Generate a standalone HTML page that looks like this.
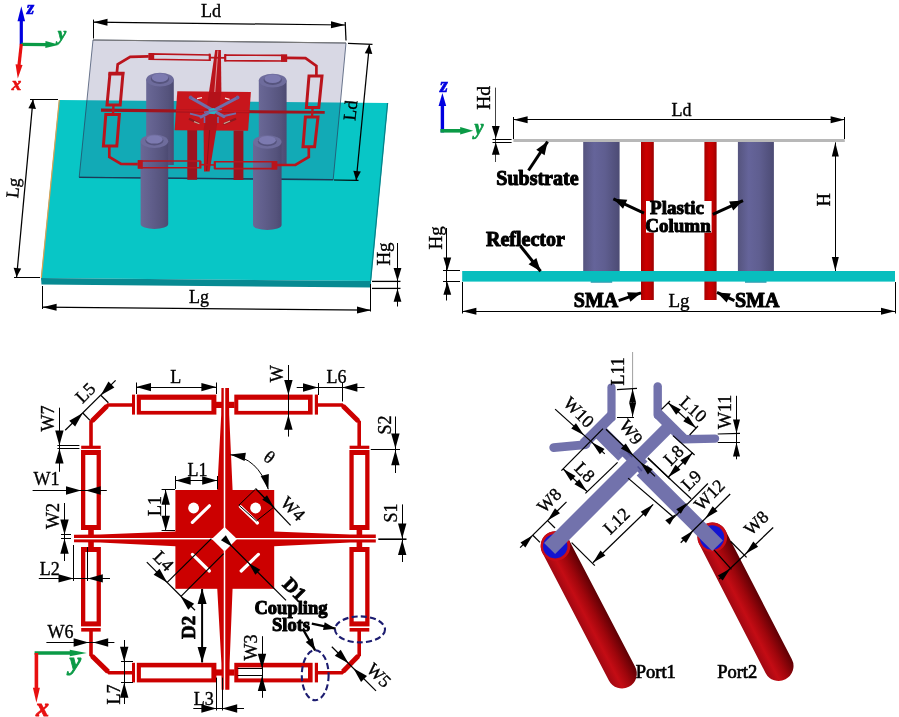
<!DOCTYPE html>
<html lang="en"><head><meta charset="utf-8"><title>Antenna geometry</title>
<style>
html,body{margin:0;padding:0;background:#fff;}
body{width:899px;height:717px;overflow:hidden;}
svg{display:block;font-family:"Liberation Serif", serif;will-change:transform;}
</style></head><body>
<svg width="899" height="717" viewBox="0 0 899 717">
<rect width="899" height="717" fill="#fff"/>
<g id="p1"><defs>
<linearGradient id="cg" x1="0" x2="1" y1="0" y2="0"><stop offset="0" stop-color="#6a6896"/><stop offset="0.35" stop-color="#615f8c"/><stop offset="0.8" stop-color="#55537c"/><stop offset="1" stop-color="#4c4a72"/></linearGradient>
</defs><polygon points="59,100 388,103 371,281 41,278" fill="#08c6c6" /><polygon points="41,278 371,281 371,287.6 41.5,284.6" fill="#078a92" /><line x1="59.3" y1="100" x2="41.3" y2="278" stroke="#e0a050" stroke-width="1.2" /><line x1="387.6" y1="103" x2="370.6" y2="281" stroke="#068088" stroke-width="1.25" /><polygon points="93,40 346,43 333.2,179.6 79.2,177.2" fill="rgb(60,60,120)" fill-opacity="0.2"/><polygon points="93,40 346,43 333.2,179.6 79.2,177.2" fill="none" stroke="#2a3a5a" stroke-width="0.8" stroke-opacity="0.85"/><line x1="93" y1="40" x2="346" y2="43" stroke="#777" stroke-width="1.25" /><line x1="79.2" y1="177.4" x2="333.2" y2="179.8" stroke="#1c3a58" stroke-width="1.4" /><rect x="187.3" y="130" width="9.8" height="49.8" fill="#9a1420" /><rect x="233.6" y="130.5" width="9.8" height="49.5" fill="#9a1420" /><path d="M146.2 79.6 L146.2 165 L173.8 165 L173.8 79.6 Z" fill="url(#cg)"/><ellipse cx="160" cy="79.6" rx="13.8" ry="6.8" fill="#6e6c9c"/><ellipse cx="160" cy="79" rx="9.11" ry="4.9" fill="#56547e"/><ellipse cx="160" cy="77.8" rx="8.28" ry="4.22" fill="#7c7ab0"/><path d="M258.8 80.6 L258.8 165 L286.6 165 L286.6 80.6 Z" fill="url(#cg)"/><ellipse cx="272.7" cy="80.6" rx="13.9" ry="6.8" fill="#6e6c9c"/><ellipse cx="272.7" cy="80" rx="9.17" ry="4.9" fill="#56547e"/><ellipse cx="272.7" cy="78.8" rx="8.34" ry="4.22" fill="#7c7ab0"/><path d="M140.6 141.2 L140.6 224 A13.8 5.1 0 0 0 168.2 224 L168.2 141.2 Z" fill="url(#cg)"/><ellipse cx="154.4" cy="141.2" rx="13.8" ry="6.8" fill="#6e6c9c"/><ellipse cx="154.4" cy="140.6" rx="9.11" ry="4.9" fill="#56547e"/><ellipse cx="154.4" cy="139.4" rx="8.28" ry="4.22" fill="#7c7ab0"/><path d="M253 142 L253 225 A14.3 5.1 0 0 0 281.6 225 L281.6 142 Z" fill="url(#cg)"/><ellipse cx="267.3" cy="142" rx="14.3" ry="6.8" fill="#6e6c9c"/><ellipse cx="267.3" cy="141.4" rx="9.44" ry="4.9" fill="#56547e"/><ellipse cx="267.3" cy="140.2" rx="8.58" ry="4.22" fill="#7c7ab0"/><polygon points="177.3,91.3 250.9,91.9 248.1,130.8 174.6,130.2" fill="#c8161c" /><polygon points="215.2,50 220.9,50 221.4,92 209,92" fill="#ba141c" /><line x1="217.9" y1="50.5" x2="213.8" y2="105" stroke="#f0d0d0" stroke-width="0.7" /><polygon points="203.6,130 216.3,130 209.6,171.6 204,171.6" fill="#ba141c" /><line x1="210.4" y1="120" x2="206.6" y2="171" stroke="#7a1018" stroke-width="0.7" /><polygon points="209,92 221.4,92 216.3,130 203.6,130" fill="#b4121a" /><polygon points="101,108.6 324.7,111 324.7,113.8 101,111.8" fill="#a0141e" /><polygon points="176,109.4 249.5,110.2 249.5,112.4 176,111.6" fill="#c8161c" /><line x1="190.6" y1="97.6" x2="224" y2="116.6" stroke="#706ea8" stroke-width="3" stroke-linecap="round"/><line x1="224" y1="116" x2="236" y2="113.4" stroke="#706ea8" stroke-width="1.8" /><line x1="237.6" y1="97.6" x2="201" y2="117" stroke="#706ea8" stroke-width="3" stroke-linecap="round"/><line x1="201" y1="116.4" x2="190" y2="113.6" stroke="#706ea8" stroke-width="1.8" /><circle cx="190.6" cy="97.4" r="1.9" fill="#6664a0"/><circle cx="237.6" cy="97.4" r="1.9" fill="#6664a0"/><line x1="197" y1="98.6" x2="202" y2="97.6" stroke="#f4e4e4" stroke-width="1.3" /><line x1="225" y1="98.2" x2="229.5" y2="99.4" stroke="#f4e4e4" stroke-width="1.3" /><polygon points="208.5,109.6 213.5,108 217.2,110.6 214.6,114.2 209.6,113.8" fill="#28b4c4" /><line x1="204" y1="112.2" x2="222" y2="109.4" stroke="#706ea8" stroke-width="1.4" /><line x1="204.5" y1="117" x2="204.5" y2="123" stroke="#706ea8" stroke-width="1.6" /><line x1="218" y1="117" x2="218" y2="123" stroke="#706ea8" stroke-width="1.6" /><line x1="189" y1="118.8" x2="199" y2="123.6" stroke="#8a1a20" stroke-width="2.2" /><line x1="236" y1="118.8" x2="223.5" y2="124" stroke="#8a1a20" stroke-width="2.2" /><line x1="194" y1="121.6" x2="199.4" y2="123.8" stroke="#c8a090" stroke-width="1.2" /><line x1="230" y1="121" x2="223.8" y2="123.6" stroke="#c8a090" stroke-width="1.2" /><polygon points="110,73.2 123,73.2 120.2,105 107,105" fill="none" stroke="#ba141c" stroke-width="3" stroke-linejoin="miter"/><polygon points="108.6,72.2 124.4,72.2 124,75.6 108.3,75.6" fill="#ba141c" /><polygon points="105.8,114.4 119.4,114.4 116.8,146 103.4,146" fill="none" stroke="#ba141c" stroke-width="3" stroke-linejoin="miter"/><polygon points="309,76 322,76 318.8,107.4 306.4,107.4" fill="none" stroke="#ba141c" stroke-width="3" stroke-linejoin="miter"/><polygon points="305.4,117 318,117 314.6,146.8 303,146.8" fill="none" stroke="#ba141c" stroke-width="3" stroke-linejoin="miter"/><polygon points="149.4,53.9 210,55 210,60.3 149.4,59.3" fill="none" stroke="#ba141c" stroke-width="1.6" stroke-linejoin="miter"/><rect x="148.6" y="53.2" width="5.6" height="6.8" fill="#ba141c" /><polygon points="225,55 286.4,55.4 286.4,61 225,60.8" fill="none" stroke="#ba141c" stroke-width="1.6" stroke-linejoin="miter"/><rect x="281" y="54.6" width="6" height="7.2" fill="#ba141c" /><polygon points="138.6,161 200,161 200,167.8 138.6,167.8" fill="none" stroke="#ba141c" stroke-width="1.6" stroke-linejoin="miter"/><rect x="137.8" y="160.2" width="5" height="8.4" fill="#ba141c" /><polygon points="215,161.8 276.4,161.8 276.4,168.6 215,168.6" fill="none" stroke="#ba141c" stroke-width="1.6" stroke-linejoin="miter"/><rect x="271.6" y="161" width="5.6" height="8.4" fill="#ba141c" /><line x1="210" y1="57.6" x2="225" y2="57.9" stroke="#ba141c" stroke-width="1.6" /><line x1="209.6" y1="53.6" x2="209.6" y2="61" stroke="#ba141c" stroke-width="1.8" /><line x1="225.4" y1="54" x2="225.4" y2="61.4" stroke="#ba141c" stroke-width="1.8" /><line x1="200" y1="164.6" x2="215" y2="165" stroke="#ba141c" stroke-width="1.6" /><line x1="200.6" y1="161" x2="200.6" y2="168.4" stroke="#ba141c" stroke-width="1.8" /><line x1="214.6" y1="161.2" x2="214.6" y2="169" stroke="#ba141c" stroke-width="1.8" /><line x1="113.5" y1="105" x2="113" y2="114.4" stroke="#ba141c" stroke-width="2.4" /><line x1="312.6" y1="107.4" x2="312" y2="117" stroke="#ba141c" stroke-width="2.4" /><polyline points="116.9,72.7 117.7,64.3 130.2,56.8 148.7,56.4" fill="none" stroke="#ba141c" stroke-width="2.7" /><polyline points="287,57.8 305.5,58.2 316.4,66 316.4,75.4" fill="none" stroke="#ba141c" stroke-width="2.7" /><polyline points="109.3,146.8 109.3,156.9 121,163.9 137.8,164.1" fill="none" stroke="#ba141c" stroke-width="2.7" /><polyline points="277,165 295.4,165 308.8,157 308.8,147.4" fill="none" stroke="#ba141c" stroke-width="2.7" /><line x1="93.5" y1="22.2" x2="345" y2="25" stroke="#000" stroke-width="1.25" /><polygon points="345,25 330.96,28.34 331.04,21.34" fill="#000" /><polygon points="93.5,22.2 107.54,18.86 107.46,25.86" fill="#000" /><line x1="93.5" y1="19.6" x2="93.5" y2="38.5" stroke="#000" stroke-width="1" /><line x1="345.2" y1="22" x2="346" y2="40.5" stroke="#000" stroke-width="1.25" /><text x="211" y="16.8" font-size="18" text-anchor="middle" font-weight="normal" font-style="normal" fill="#000" stroke="#000" stroke-width="0.35">Ld</text><line x1="369.4" y1="44.6" x2="356.2" y2="180.2" stroke="#000" stroke-width="1.25" /><polygon points="356.2,180.2 353.29,170.87 360.85,171.61" fill="#000" /><polygon points="369.4,44.6 372.31,53.93 364.75,53.19" fill="#000" /><line x1="348" y1="43.3" x2="372.5" y2="44.3" stroke="#000" stroke-width="1.25" /><line x1="334" y1="180" x2="358.5" y2="180.4" stroke="#000" stroke-width="1.25" /><text x="356.4" y="111" font-size="18" text-anchor="middle" font-weight="normal" font-style="normal" fill="#000" transform="rotate(-84 356.4 111)" stroke="#000" stroke-width="0.35">Ld</text><line x1="33" y1="99.6" x2="16.6" y2="277" stroke="#000" stroke-width="1.25" /><polygon points="16.6,277 13.64,267.69 21.21,268.39" fill="#000" /><polygon points="33,99.6 35.96,108.91 28.39,108.21" fill="#000" /><line x1="30" y1="99.5" x2="58" y2="99.5" stroke="#000" stroke-width="1" /><line x1="14" y1="277.5" x2="40" y2="277.5" stroke="#000" stroke-width="1" /><text x="19" y="188.5" font-size="18" text-anchor="middle" font-weight="normal" font-style="normal" fill="#000" transform="rotate(-84 19 188.5)" stroke="#000" stroke-width="0.35">Lg</text><line x1="42.6" y1="307.2" x2="371" y2="310.2" stroke="#000" stroke-width="1.25" /><polygon points="371,310.2 356.97,313.57 357.03,306.57" fill="#000" /><polygon points="42.6,307.2 56.63,303.83 56.57,310.83" fill="#000" /><line x1="42.5" y1="286" x2="42.5" y2="309" stroke="#000" stroke-width="1" /><line x1="370.5" y1="284" x2="370.5" y2="311.5" stroke="#000" stroke-width="1" /><text x="199" y="303.4" font-size="18" text-anchor="middle" font-weight="normal" font-style="normal" fill="#000" stroke="#000" stroke-width="0.35">Lg</text><line x1="372" y1="281.4" x2="400.5" y2="281.4" stroke="#000" stroke-width="1.3" /><line x1="372" y1="288.4" x2="400.5" y2="288.4" stroke="#000" stroke-width="1.3" /><line x1="397.5" y1="243" x2="397.5" y2="306.5" stroke="#000" stroke-width="1" /><polygon points="397.5,281 393.6,268 401.4,268" fill="#000" /><polygon points="397.5,288.8 401.4,301.8 393.6,301.8" fill="#000" /><text x="390.4" y="254" font-size="19" text-anchor="middle" font-weight="normal" font-style="normal" fill="#000" transform="rotate(-90 390.4 254)" stroke="#000" stroke-width="0.35">Hg</text><line x1="21.3" y1="44.5" x2="21.3" y2="18" stroke="#0000e0" stroke-width="3.2" /><polygon points="21.3,6.3 25.1,21.3 17.5,21.3" fill="#0000e0" /><line x1="21.3" y1="44.4" x2="47" y2="44.6" stroke="#0a9a46" stroke-width="3.2" /><polygon points="59.4,44.8 45.33,48.02 45.47,41.02" fill="#0a9a46" /><line x1="21.3" y1="44" x2="18.9" y2="66" stroke="#e81010" stroke-width="3.2" /><polygon points="17.8,78.6 15.57,64.34 22.54,64.97" fill="#e81010" /><text x="30.4" y="14.2" font-size="19" text-anchor="middle" font-weight="bold" font-style="italic" fill="#0000e0" stroke="#0000e0" stroke-width="0.7">z</text><text x="62" y="40" font-size="19" text-anchor="middle" font-weight="bold" font-style="italic" fill="#0a9a46" stroke="#0a9a46" stroke-width="0.7">y</text><text x="16.4" y="90.4" font-size="19" text-anchor="middle" font-weight="bold" font-style="italic" fill="#e81010" stroke="#e81010" stroke-width="0.7">x</text></g>
<g id="p2"><defs>
<linearGradient id="cg2" x1="0" x2="1" y1="0" y2="0"><stop offset="0" stop-color="#55547e"/><stop offset="0.3" stop-color="#65649a"/><stop offset="0.6" stop-color="#5f5e90"/><stop offset="1" stop-color="#4c4b74"/></linearGradient>
<linearGradient id="rg0" x1="0" x2="1" y1="0" y2="0"><stop offset="0" stop-color="#a80000"/><stop offset="0.4" stop-color="#cc0000"/><stop offset="0.7" stop-color="#c00000"/><stop offset="1" stop-color="#9c0000"/></linearGradient>
</defs><rect x="583.2" y="142" width="36.4" height="129.5" fill="url(#cg2)" /><rect x="737.9" y="142" width="36" height="129.5" fill="url(#cg2)" /><rect x="590.7" y="281" width="21.5" height="1.8" fill="#3aa0b4" /><rect x="745" y="281" width="21.5" height="1.8" fill="#3aa0b4" /><rect x="641" y="142" width="12.8" height="158" fill="url(#rg0)" /><rect x="704.4" y="142" width="12.2" height="158" fill="url(#rg0)" /><rect x="513.4" y="139" width="331.4" height="3" fill="#b8b8b8" /><rect x="462.2" y="271" width="432.8" height="10.6" fill="#08bebe" /><rect x="646" y="201" width="65.6" height="31.6" fill="#fff" /><line x1="513.6" y1="119.5" x2="844.6" y2="119.5" stroke="#000" stroke-width="1" /><polygon points="844.6,119.7 830.6,123.2 830.6,116.2" fill="#000" /><polygon points="513.6,119.7 527.6,116.2 527.6,123.2" fill="#000" /><line x1="513.5" y1="117" x2="513.5" y2="139" stroke="#000" stroke-width="1" /><line x1="844.5" y1="117" x2="844.5" y2="139" stroke="#000" stroke-width="1" /><text x="681.4" y="116" font-size="18" text-anchor="middle" font-weight="normal" font-style="normal" fill="#000" stroke="#000" stroke-width="0.35">Ld</text><line x1="835.5" y1="142.4" x2="835.5" y2="271" stroke="#000" stroke-width="1" /><polygon points="835.3,271 831.8,257 838.8,257" fill="#000" /><polygon points="835.3,142.4 838.8,156.4 831.8,156.4" fill="#000" /><text x="829.6" y="199.8" font-size="18" text-anchor="middle" font-weight="normal" font-style="normal" fill="#000" transform="rotate(-90 829.6 199.8)" stroke="#000" stroke-width="0.35">H</text><line x1="462.4" y1="311.5" x2="895" y2="311.5" stroke="#000" stroke-width="1" /><polygon points="895,311.2 881,314.7 881,307.7" fill="#000" /><polygon points="462.4,311.2 476.4,307.7 476.4,314.7" fill="#000" /><line x1="462.5" y1="282" x2="462.5" y2="313.5" stroke="#000" stroke-width="1" /><line x1="895.5" y1="282" x2="895.5" y2="313.5" stroke="#000" stroke-width="1" /><text x="679" y="306.6" font-size="19" text-anchor="middle" font-weight="normal" font-style="normal" fill="#000" stroke="#000" stroke-width="0.35">Lg</text><line x1="495.5" y1="87.6" x2="495.5" y2="162" stroke="#444" stroke-width="1" /><polygon points="495.8,138.6 491.9,126.1 499.7,126.1" fill="#000" /><polygon points="495.8,142.2 499.7,154.7 491.9,154.7" fill="#000" /><line x1="492.5" y1="139.5" x2="511.6" y2="139.5" stroke="#000" stroke-width="1" /><line x1="492.5" y1="142.5" x2="511.6" y2="142.5" stroke="#000" stroke-width="1" /><text x="490.4" y="97.9" font-size="19.5" text-anchor="middle" font-weight="normal" font-style="normal" fill="#000" transform="rotate(-90 490.4 97.9)" stroke="#000" stroke-width="0.35">Hd</text><line x1="446.5" y1="228" x2="446.5" y2="300.5" stroke="#000" stroke-width="1" /><polygon points="447.3,270.4 443.4,257.4 451.2,257.4" fill="#000" /><polygon points="447.3,281.8 451.2,294.8 443.4,294.8" fill="#000" /><line x1="443" y1="270.5" x2="460" y2="270.5" stroke="#000" stroke-width="1" /><line x1="443" y1="281.5" x2="460" y2="281.5" stroke="#000" stroke-width="1" /><text x="442" y="237.8" font-size="19" text-anchor="middle" font-weight="normal" font-style="normal" fill="#000" transform="rotate(-90 442 237.8)" stroke="#000" stroke-width="0.35">Hg</text><text x="537.4" y="184.8" font-size="20" text-anchor="middle" font-weight="bold" font-style="normal" fill="#000" stroke="#000" stroke-width="1" stroke-linejoin="round">Substrate</text><text x="525.4" y="246.4" font-size="20" text-anchor="middle" font-weight="bold" font-style="normal" fill="#000" stroke="#000" stroke-width="1" stroke-linejoin="round">Reflector</text><text x="677" y="213.6" font-size="19" text-anchor="middle" font-weight="bold" font-style="normal" fill="#000" stroke="#000" stroke-width="1" stroke-linejoin="round">Plastic</text><text x="678" y="232" font-size="19" text-anchor="middle" font-weight="bold" font-style="normal" fill="#000" stroke="#000" stroke-width="1" stroke-linejoin="round">Column</text><text x="596" y="306.8" font-size="20" text-anchor="middle" font-weight="bold" font-style="normal" fill="#000" stroke="#000" stroke-width="1" stroke-linejoin="round">SMA</text><text x="757.2" y="306.8" font-size="20" text-anchor="middle" font-weight="bold" font-style="normal" fill="#000" stroke="#000" stroke-width="1" stroke-linejoin="round">SMA</text><line x1="528.5" y1="170.5" x2="547.6" y2="141.6" stroke="#000" stroke-width="3" /><polygon points="547.6,141.6 544.6,155.2 536.26,149.69" fill="#000" /><line x1="520.4" y1="246" x2="540.6" y2="271.2" stroke="#000" stroke-width="3" /><polygon points="540.6,271.2 528.57,264.18 536.37,257.93" fill="#000" /><line x1="644" y1="213.2" x2="613.4" y2="198.8" stroke="#000" stroke-width="3" /><polygon points="613.4,198.8 627.29,199.81 623.03,208.86" fill="#000" /><line x1="712.8" y1="214.4" x2="743" y2="200.6" stroke="#000" stroke-width="3" /><polygon points="743,200.6 733.25,210.55 729.1,201.46" fill="#000" /><line x1="618.6" y1="300.6" x2="641" y2="292.8" stroke="#000" stroke-width="3" /><polygon points="641,292.8 630.37,301.8 627.08,292.35" fill="#000" /><line x1="734.4" y1="300.6" x2="717" y2="292.4" stroke="#000" stroke-width="3" /><polygon points="717,292.4 730.89,293.42 726.63,302.46" fill="#000" /><line x1="442.4" y1="132.4" x2="442.4" y2="103" stroke="#0000e0" stroke-width="3.4" /><polygon points="442.4,93 446.2,106 438.6,106" fill="#0000e0" /><line x1="440.4" y1="130.8" x2="462" y2="130.8" stroke="#0a9a46" stroke-width="3.6" /><polygon points="473.2,130.8 460.2,134.6 460.2,127" fill="#0a9a46" /><text x="443.8" y="92.4" font-size="20" text-anchor="middle" font-weight="bold" font-style="italic" fill="#0000e0" stroke="#0000e0" stroke-width="0.7">z</text><text x="479" y="134.4" font-size="20" text-anchor="middle" font-weight="bold" font-style="italic" fill="#0a9a46" stroke="#0a9a46" stroke-width="0.7">y</text></g>
<g id="p3"><polyline points="132,405 108,405 91,422 91,446" fill="none" stroke="#cc0000" stroke-width="3.6" stroke-linejoin="miter"/><polyline points="318,405 341.9,405 359.2,422 359.2,446" fill="none" stroke="#cc0000" stroke-width="3.6" stroke-linejoin="miter"/><polyline points="132,672.8 109.2,672.8 91,655 91,631" fill="none" stroke="#cc0000" stroke-width="3.6" stroke-linejoin="miter"/><polyline points="318,672.8 341.9,672.8 359.2,655 359.2,631" fill="none" stroke="#cc0000" stroke-width="3.6" stroke-linejoin="miter"/><line x1="107" y1="406" x2="92" y2="421" stroke="#cc0000" stroke-width="5" /><line x1="343" y1="406" x2="358.2" y2="421" stroke="#cc0000" stroke-width="5" /><line x1="108" y1="671.6" x2="92" y2="656" stroke="#cc0000" stroke-width="5" /><line x1="343" y1="671.6" x2="358.2" y2="656" stroke="#cc0000" stroke-width="5" /><rect x="136.8" y="394.6" width="79.6" height="20" fill="#cc0000" /><rect x="140.9" y="399.8" width="70.5" height="11.1" fill="#fff" /><rect x="132" y="394.6" width="3" height="20" fill="#cc0000" /><rect x="234.3" y="394.6" width="78.3" height="20" fill="#cc0000" /><rect x="238.3" y="399.8" width="69.7" height="11.1" fill="#fff" /><rect x="314.8" y="394.6" width="3.2" height="20" fill="#cc0000" /><rect x="136.8" y="662.8" width="79.6" height="19.6" fill="#cc0000" /><rect x="140.9" y="667.4" width="70.5" height="11" fill="#fff" /><rect x="132" y="662.8" width="3" height="19.6" fill="#cc0000" /><rect x="234.3" y="662.8" width="78.3" height="19.6" fill="#cc0000" /><rect x="238.3" y="667.4" width="69.7" height="11" fill="#fff" /><rect x="314.8" y="662.8" width="3.2" height="19.6" fill="#cc0000" /><rect x="81" y="450" width="19.9" height="80" fill="#cc0000" /><rect x="85.3" y="455" width="11.3" height="70" fill="#fff" /><rect x="81.2" y="445.7" width="19.5" height="3.2" fill="#cc0000" /><rect x="349.4" y="450" width="20.1" height="80" fill="#cc0000" /><rect x="353.7" y="455" width="11.5" height="70" fill="#fff" /><rect x="349.6" y="445.7" width="19.7" height="3.2" fill="#cc0000" /><rect x="81" y="547" width="19.9" height="79.4" fill="#cc0000" /><rect x="85.3" y="552" width="11.3" height="69.4" fill="#fff" /><rect x="81.2" y="628" width="19.5" height="3.6" fill="#cc0000" /><rect x="349.4" y="547" width="20.1" height="79.4" fill="#cc0000" /><rect x="353.7" y="552" width="11.5" height="69.4" fill="#fff" /><rect x="349.6" y="628" width="19.7" height="3.6" fill="#cc0000" /><rect x="88.2" y="529.5" width="5.6" height="5.5" fill="#cc0000" /><rect x="88.2" y="542" width="5.6" height="5.5" fill="#cc0000" /><rect x="356.6" y="529.5" width="5.6" height="5.5" fill="#cc0000" /><rect x="356.6" y="542" width="5.6" height="5.5" fill="#cc0000" /><rect x="216" y="401.8" width="6" height="6.2" fill="#cc0000" /><rect x="228.6" y="401.8" width="6" height="6.2" fill="#cc0000" /><rect x="216" y="669.4" width="6" height="6.2" fill="#cc0000" /><rect x="228.6" y="669.4" width="6" height="6.2" fill="#cc0000" /><rect x="175.4" y="490" width="98.8" height="98.8" fill="#cc0000" /><polygon points="221.4,388 229,388 229.2,415 232.6,490 232.6,588 229.6,663 229.4,689.7 221.6,689.7 221.4,663 217.2,588 217.2,490 221.2,415" fill="#cc0000" /><polygon points="74,534.8 100,534.6 175.4,531.6 274,531.6 350,534.5 375.8,534.6 375.8,542.4 350,542.6 274,546.3 175.4,546.3 100,542.6 74,542.2" fill="#cc0000" /><rect x="223.75" y="388" width="1.5" height="302" fill="#fff" /><rect x="74" y="538" width="302" height="1.4" fill="#fff" /><polygon points="224.5,527 237,539 224.5,551.6 211.8,539" fill="#fff" /><circle cx="193.6" cy="508" r="5.4" fill="#fff"/><circle cx="255.6" cy="508" r="5.4" fill="#fff"/><line x1="192.4" y1="522.4" x2="209.4" y2="505.8" stroke="#fff" stroke-width="3.2" stroke-linecap="round"/><line x1="240.4" y1="506.6" x2="257.4" y2="523" stroke="#fff" stroke-width="3.2" stroke-linecap="round"/><line x1="192.4" y1="554.4" x2="209.4" y2="571" stroke="#fff" stroke-width="3.2" stroke-linecap="round"/><line x1="241.2" y1="571" x2="258.4" y2="554.4" stroke="#fff" stroke-width="3.2" stroke-linecap="round"/><line x1="136" y1="387.5" x2="216.4" y2="387.5" stroke="#000" stroke-width="1" /><polygon points="136,387.1 151,382.9 151,391.3" fill="#000" /><polygon points="216.4,387.1 201.4,391.3 201.4,382.9" fill="#000" /><line x1="136.5" y1="382.5" x2="136.5" y2="394" stroke="#000" stroke-width="1" /><line x1="216.5" y1="382.5" x2="216.5" y2="394" stroke="#000" stroke-width="1" /><text x="175.8" y="382.6" font-size="18" text-anchor="middle" font-weight="normal" font-style="normal" fill="#000" stroke="#000" stroke-width="0.35">L</text><line x1="65.2" y1="430.3" x2="115.6" y2="380.4" stroke="#000" stroke-width="1.25" /><polygon points="82.8,413 75.16,426.58 69.22,420.64" fill="#000" /><polygon points="100.8,395.2 108.44,381.62 114.38,387.56" fill="#000" /><line x1="82.8" y1="413" x2="90" y2="420.4" stroke="#000" stroke-width="1.25" /><line x1="100.8" y1="395.2" x2="108.4" y2="402.8" stroke="#000" stroke-width="1.25" /><text x="89.6" y="397" font-size="18" text-anchor="middle" font-weight="normal" font-style="normal" fill="#000" transform="rotate(-45 89.6 397)" stroke="#000" stroke-width="0.35">L5</text><line x1="59.5" y1="407.7" x2="59.5" y2="471.8" stroke="#000" stroke-width="1" /><polygon points="59.4,445.4 55.2,430.4 63.6,430.4" fill="#000" /><polygon points="59.4,448.6 63.6,463.6 55.2,463.6" fill="#000" /><line x1="57.4" y1="445.5" x2="79.4" y2="445.5" stroke="#000" stroke-width="1" /><line x1="57.4" y1="448.5" x2="79.4" y2="448.5" stroke="#000" stroke-width="1" /><text x="54.4" y="418.6" font-size="18" text-anchor="middle" font-weight="normal" font-style="normal" fill="#000" transform="rotate(-90 54.4 418.6)" stroke="#000" stroke-width="0.35">W7</text><line x1="32.6" y1="490.5" x2="106.8" y2="490.5" stroke="#000" stroke-width="1" /><polygon points="81,490.5 66,494.7 66,486.3" fill="#000" /><polygon points="85.6,490.5 100.6,486.3 100.6,494.7" fill="#000" /><text x="46.6" y="485" font-size="18" text-anchor="middle" font-weight="normal" font-style="normal" fill="#000" stroke="#000" stroke-width="0.35">W1</text><line x1="64.5" y1="503" x2="64.5" y2="561" stroke="#000" stroke-width="1" /><polygon points="64.5,534.4 60.3,519.4 68.7,519.4" fill="#000" /><polygon points="64.5,538.8 68.7,553.8 60.3,553.8" fill="#000" /><line x1="61" y1="534.5" x2="71" y2="534.5" stroke="#000" stroke-width="1" /><line x1="61" y1="538.5" x2="71" y2="538.5" stroke="#000" stroke-width="1" /><text x="58.8" y="516" font-size="18" text-anchor="middle" font-weight="normal" font-style="normal" fill="#000" transform="rotate(-90 58.8 516)" stroke="#000" stroke-width="0.35">W2</text><line x1="175.7" y1="480.5" x2="217.2" y2="480.5" stroke="#000" stroke-width="1" /><polygon points="175.7,480.5 190.7,476.3 190.7,484.7" fill="#000" /><polygon points="217.2,480.5 202.2,484.7 202.2,476.3" fill="#000" /><line x1="175.5" y1="476" x2="175.5" y2="489" stroke="#000" stroke-width="1" /><line x1="217.5" y1="476" x2="217.5" y2="489" stroke="#000" stroke-width="1" /><text x="197.6" y="476.2" font-size="18" text-anchor="middle" font-weight="normal" font-style="normal" fill="#000" stroke="#000" stroke-width="0.35">L1</text><line x1="165.5" y1="489.8" x2="165.5" y2="530.8" stroke="#000" stroke-width="1" /><polygon points="165.7,489.8 169.9,504.8 161.5,504.8" fill="#000" /><polygon points="165.7,530.8 161.5,515.8 169.9,515.8" fill="#000" /><line x1="161.6" y1="489.5" x2="175" y2="489.5" stroke="#000" stroke-width="1" /><line x1="161.6" y1="530.5" x2="175" y2="530.5" stroke="#000" stroke-width="1" /><text x="161.4" y="506" font-size="18" text-anchor="middle" font-weight="normal" font-style="normal" fill="#000" transform="rotate(-90 161.4 506)" stroke="#000" stroke-width="0.35">L1</text><line x1="288.5" y1="365" x2="288.5" y2="436.6" stroke="#000" stroke-width="1" /><polygon points="288.4,395 284.2,380 292.6,380" fill="#000" /><polygon points="288.4,414.8 292.6,429.8 284.2,429.8" fill="#000" /><text x="283.4" y="373.8" font-size="18" text-anchor="middle" font-weight="normal" font-style="normal" fill="#000" transform="rotate(-90 283.4 373.8)" stroke="#000" stroke-width="0.35">W</text><line x1="296.7" y1="387.5" x2="364.6" y2="387.5" stroke="#000" stroke-width="1" /><polygon points="318,387.5 303,391.7 303,383.3" fill="#000" /><polygon points="342.4,387.5 357.4,383.3 357.4,391.7" fill="#000" /><line x1="318.5" y1="383" x2="318.5" y2="395" stroke="#000" stroke-width="1" /><line x1="342.5" y1="383" x2="342.5" y2="401.5" stroke="#000" stroke-width="1" /><text x="336.4" y="382.6" font-size="18" text-anchor="middle" font-weight="normal" font-style="normal" fill="#000" stroke="#000" stroke-width="0.35">L6</text><line x1="395.5" y1="416.5" x2="395.5" y2="473" stroke="#000" stroke-width="1" /><polygon points="395.4,448.6 391.2,433.6 399.6,433.6" fill="#000" /><polygon points="395.4,450.2 399.6,465.2 391.2,465.2" fill="#000" /><line x1="370.8" y1="449.5" x2="400" y2="449.5" stroke="#000" stroke-width="1" /><text x="391" y="425" font-size="18" text-anchor="middle" font-weight="normal" font-style="normal" fill="#000" transform="rotate(-90 391 425)" stroke="#000" stroke-width="0.35">S2</text><line x1="402.5" y1="504.4" x2="402.5" y2="562" stroke="#000" stroke-width="1" /><polygon points="402.2,538.4 398,523.4 406.4,523.4" fill="#000" /><polygon points="402.2,540 406.4,555 398,555" fill="#000" /><line x1="378.3" y1="539.2" x2="406.5" y2="539.2" stroke="#000" stroke-width="1.6" /><text x="396.6" y="513" font-size="18" text-anchor="middle" font-weight="normal" font-style="normal" fill="#000" transform="rotate(-90 396.6 513)" stroke="#000" stroke-width="0.35">S1</text><path d="M230.4 454.8 Q258 458 268.2 489.2" fill="none" stroke="#000" stroke-width="1"/><polygon points="230.4,454.6 245.86,452.67 244.61,460.98" fill="#000" /><polygon points="268.4,489.6 260.69,476.07 268.84,474.03" fill="#000" /><text x="269" y="463" font-size="18" text-anchor="middle" transform="rotate(38 269 457.5) " stroke="#000" stroke-width="0.3">θ</text><polygon points="255.8,488.8 238.9,505.2 256.5,520.9 274.1,506.9" fill="none" stroke="#000" stroke-width="1"/><line x1="255.8" y1="488.8" x2="290.6" y2="525.4" stroke="#000" stroke-width="1.25" /><polygon points="273.6,506.8 262.28,499.63 266.99,495.14" fill="#000" /><text x="288.6" y="513" font-size="18" text-anchor="middle" font-weight="normal" font-style="normal" fill="#000" transform="rotate(45 288.6 513)" stroke="#000" stroke-width="0.35">W4</text><line x1="38.8" y1="578.5" x2="110" y2="578.5" stroke="#000" stroke-width="1" /><polygon points="73.5,578.4 58.5,582.6 58.5,574.2" fill="#000" /><polygon points="87.8,578.4 102.8,574.2 102.8,582.6" fill="#000" /><line x1="73.5" y1="545" x2="73.5" y2="581" stroke="#000" stroke-width="1" /><line x1="87.5" y1="547" x2="87.5" y2="581" stroke="#000" stroke-width="1" /><text x="49.8" y="574.7" font-size="18" text-anchor="middle" font-weight="normal" font-style="normal" fill="#000" stroke="#000" stroke-width="0.35">L2</text><line x1="146.8" y1="562.1" x2="195" y2="610.2" stroke="#000" stroke-width="1.25" /><polygon points="167.2,582.4 153.62,574.76 159.56,568.82" fill="#000" /><polygon points="180.6,596.2 194.18,603.84 188.24,609.78" fill="#000" /><line x1="167.2" y1="582.4" x2="211.4" y2="538.6" stroke="#000" stroke-width="1.25" /><line x1="181" y1="596.4" x2="223.6" y2="553.6" stroke="#000" stroke-width="1.25" /><text x="159.4" y="565.2" font-size="18" text-anchor="middle" font-weight="normal" font-style="normal" fill="#000" transform="rotate(45 159.4 565.2)" stroke="#000" stroke-width="0.35">L4</text><line x1="202.1" y1="589" x2="202.1" y2="662.4" stroke="#000" stroke-width="2" /><polygon points="202.1,588.6 206.6,604.1 197.6,604.1" fill="#000" /><polygon points="202.1,662.6 197.6,647.1 206.6,647.1" fill="#000" /><text x="194.8" y="627.4" font-size="19" text-anchor="middle" font-weight="bold" font-style="normal" fill="#000" transform="rotate(-90 194.8 627.4)" stroke="#000" stroke-width="0.8">D2</text><line x1="46.4" y1="642.5" x2="114.4" y2="642.5" stroke="#000" stroke-width="1" /><polygon points="88.6,642.5 73.6,646.7 73.6,638.3" fill="#000" /><polygon points="93.2,642.5 108.2,638.3 108.2,646.7" fill="#000" /><text x="60.4" y="637.6" font-size="18" text-anchor="middle" font-weight="normal" font-style="normal" fill="#000" stroke="#000" stroke-width="0.35">W6</text><line x1="124.5" y1="640" x2="124.5" y2="704" stroke="#000" stroke-width="1" /><polygon points="124.2,661.8 120,646.8 128.4,646.8" fill="#000" /><polygon points="124.2,682.8 128.4,697.8 120,697.8" fill="#000" /><line x1="121" y1="661.5" x2="133" y2="661.5" stroke="#000" stroke-width="1" /><line x1="121" y1="682.5" x2="133" y2="682.5" stroke="#000" stroke-width="1" /><text x="119.8" y="694.6" font-size="18" text-anchor="middle" font-weight="normal" font-style="normal" fill="#000" transform="rotate(-90 119.8 694.6)" stroke="#000" stroke-width="0.35">L7</text><line x1="193.3" y1="708.5" x2="244" y2="708.5" stroke="#000" stroke-width="1" /><polygon points="216.4,708.5 201.4,712.7 201.4,704.3" fill="#000" /><polygon points="222.2,708.5 237.2,704.3 237.2,712.7" fill="#000" /><line x1="216.5" y1="677.6" x2="216.5" y2="710.5" stroke="#000" stroke-width="1" /><line x1="222.5" y1="677.6" x2="222.5" y2="710.5" stroke="#000" stroke-width="1" /><text x="203.8" y="704.8" font-size="18" text-anchor="middle" font-weight="normal" font-style="normal" fill="#000" stroke="#000" stroke-width="0.35">L3</text><line x1="262.5" y1="636.2" x2="262.5" y2="697.8" stroke="#000" stroke-width="1" /><polygon points="262,668.8 257.8,653.8 266.2,653.8" fill="#000" /><polygon points="262,676 266.2,691 257.8,691" fill="#000" /><line x1="237.7" y1="668.5" x2="262" y2="668.5" stroke="#000" stroke-width="1" /><line x1="237.7" y1="675.5" x2="262" y2="675.5" stroke="#000" stroke-width="1" /><text x="257.4" y="647.6" font-size="18" text-anchor="middle" font-weight="normal" font-style="normal" fill="#000" transform="rotate(-90 257.4 647.6)" stroke="#000" stroke-width="0.35">W3</text><line x1="331.8" y1="646.7" x2="376" y2="690.9" stroke="#000" stroke-width="1.25" /><polygon points="348.4,663.3 334.82,655.66 340.76,649.72" fill="#000" /><polygon points="353.4,668.3 366.98,675.94 361.04,681.88" fill="#000" /><text x="374.6" y="679.4" font-size="18" text-anchor="middle" font-weight="normal" font-style="normal" fill="#000" transform="rotate(45 374.6 679.4)" stroke="#000" stroke-width="0.35">W5</text><line x1="224.6" y1="539" x2="286" y2="600.4" stroke="#000" stroke-width="1.25" /><polygon points="232.6,547 220.93,540.28 225.88,535.33" fill="#000" /><polygon points="248.6,563 260.27,569.72 255.32,574.67" fill="#000" /><text x="290" y="593.6" font-size="19.5" text-anchor="middle" font-weight="bold" font-style="normal" fill="#000" transform="rotate(45 290 593.6)" stroke="#000" stroke-width="0.8">D1</text><text x="291" y="613.8" font-size="18.5" text-anchor="middle" font-weight="bold" font-style="normal" fill="#000" stroke="#000" stroke-width="1">Coupling</text><text x="291" y="631.4" font-size="18.5" text-anchor="middle" font-weight="bold" font-style="normal" fill="#000" stroke="#000" stroke-width="1">Slots</text><line x1="311.8" y1="623.6" x2="335.6" y2="628.7" stroke="#000" stroke-width="2.4" /><polygon points="335.6,628.7 323.03,630.1 324.7,622.27" fill="#000" /><line x1="303.4" y1="630" x2="315.2" y2="650.4" stroke="#000" stroke-width="2.4" /><polygon points="315.2,650.4 305.73,642.02 312.65,638.01" fill="#000" /><ellipse cx="360" cy="629.4" rx="25" ry="13" fill="none" stroke="#1c1c70" stroke-width="2.1" stroke-dasharray="6 3.2"/><ellipse cx="315.2" cy="675.2" rx="13.4" ry="25" fill="none" stroke="#1c1c70" stroke-width="2.1" stroke-dasharray="6 3.2"/><line x1="34.6" y1="653" x2="72" y2="653" stroke="#0a9a46" stroke-width="3.6" /><polygon points="86.8,653 69.8,656.3 69.8,649.7" fill="#0a9a46" /><line x1="36.4" y1="653" x2="36.4" y2="690" stroke="#e81010" stroke-width="3.6" /><polygon points="36.4,702.8 32.9,687.8 39.9,687.8" fill="#e81010" /><text x="75.2" y="669.6" font-size="26" text-anchor="middle" font-weight="bold" font-style="italic" fill="#0a9a46" stroke="#0a9a46" stroke-width="0.9">y</text><text x="42.6" y="716.4" font-size="26" text-anchor="middle" font-weight="bold" font-style="italic" fill="#e81010" stroke="#e81010" stroke-width="0.9">x</text></g>
<g id="p4"><defs><linearGradient id="rg1" gradientUnits="userSpaceOnUse" x1="542.37" y1="552.84" x2="568.63" y2="539.16"><stop offset="0" stop-color="#a00812"/><stop offset="0.3" stop-color="#c40c14"/><stop offset="0.6" stop-color="#a0060c"/><stop offset="1" stop-color="#5e0004"/></linearGradient></defs><line x1="555.5" y1="546" x2="622" y2="673.7" stroke="url(#rg1)" stroke-width="29.6" stroke-linecap="round"/><circle cx="555.5" cy="546" r="14.8" fill="#c80c18"/><circle cx="555.2" cy="546.2" r="12.2" fill="#1414d0"/><defs><linearGradient id="rg2" gradientUnits="userSpaceOnUse" x1="699.15" y1="544.08" x2="725.45" y2="530.52"><stop offset="0" stop-color="#a00812"/><stop offset="0.3" stop-color="#c40c14"/><stop offset="0.6" stop-color="#a0060c"/><stop offset="1" stop-color="#5e0004"/></linearGradient></defs><line x1="712.3" y1="537.3" x2="778.7" y2="666.1" stroke="url(#rg2)" stroke-width="29.6" stroke-linecap="round"/><circle cx="712.3" cy="537.3" r="14.8" fill="#c80c18"/><circle cx="712" cy="537.5" r="12.2" fill="#1414d0"/><line x1="597.8" y1="429.7" x2="623.6" y2="455.5" stroke="#7272ac" stroke-width="15" /><line x1="622" y1="450" x2="645.5" y2="473.5" stroke="#6a6aa6" stroke-width="8.6" /><line x1="642" y1="470.2" x2="717.6" y2="545.8" stroke="#7272ac" stroke-width="15" /><line x1="549.6" y1="548.4" x2="642" y2="456" stroke="#7272ac" stroke-width="15.6" /><line x1="632" y1="463.7" x2="670" y2="425.7" stroke="#7272ac" stroke-width="12.4" /><line x1="627.6" y1="452.4" x2="632.4" y2="457.2" stroke="#4c4c90" stroke-width="1.4" /><line x1="637.6" y1="466.6" x2="642" y2="471" stroke="#4c4c90" stroke-width="1.4" /><line x1="612.2" y1="415.3" x2="583.5" y2="444" stroke="#7272ac" stroke-width="10.4" /><line x1="657.6" y1="413.4" x2="683.6" y2="439.2" stroke="#7272ac" stroke-width="10.4" /><line x1="611.5" y1="387.6" x2="611.5" y2="417.5" stroke="#7272ac" stroke-width="8.2" stroke-linecap="round"/><line x1="657.7" y1="386.4" x2="657.7" y2="415" stroke="#7272ac" stroke-width="8.4" stroke-linecap="round"/><line x1="553.6" y1="447.6" x2="586" y2="444.6" stroke="#7272ac" stroke-width="8.6" stroke-linecap="round"/><line x1="683" y1="439.2" x2="715" y2="438.6" stroke="#7272ac" stroke-width="8.4" stroke-linecap="round"/><line x1="632.6" y1="352" x2="632.6" y2="388" stroke="#888" stroke-width="0.8" /><line x1="632.5" y1="388.8" x2="632.5" y2="416.7" stroke="#000" stroke-width="1" /><polygon points="632.6,388.8 636.1,402.8 629.1,402.8" fill="#000" /><polygon points="632.6,416.7 629.1,402.7 636.1,402.7" fill="#000" /><line x1="617" y1="389.6" x2="637" y2="388.4" stroke="#000" stroke-width="1.25" /><line x1="617" y1="417.5" x2="634" y2="417.5" stroke="#000" stroke-width="1" /><text x="623.6" y="371.3" font-size="18" text-anchor="middle" font-weight="normal" font-style="normal" fill="#000" transform="rotate(-90 623.6 371.3)" stroke="#000" stroke-width="0.35">L11</text><line x1="555.1" y1="409.1" x2="604.8" y2="453.9" stroke="#000" stroke-width="1.25" /><polygon points="584,435.2 571.25,428.44 575.94,423.23" fill="#000" /><polygon points="591.8,442.2 604.55,448.96 599.86,454.17" fill="#000" /><text x="574.6" y="416.4" font-size="18" text-anchor="middle" font-weight="normal" font-style="normal" fill="#000" transform="rotate(45 574.6 416.4)" stroke="#000" stroke-width="0.35">W10</text><line x1="606" y1="429.3" x2="655" y2="476.4" stroke="#000" stroke-width="1.25" /><polygon points="633.4,455.6 620.88,448.43 625.72,443.38" fill="#000" /><polygon points="640.2,462.2 652.72,469.37 647.88,474.42" fill="#000" /><text x="626.4" y="435.8" font-size="18" text-anchor="middle" font-weight="normal" font-style="normal" fill="#000" transform="rotate(52 626.4 435.8)" stroke="#000" stroke-width="0.35">W9</text><line x1="668.1" y1="402.8" x2="696" y2="427.9" stroke="#000" stroke-width="1.25" /><polygon points="668.1,402.8 680.85,409.56 676.16,414.77" fill="#000" /><polygon points="696,427.9 683.25,421.14 687.94,415.93" fill="#000" /><line x1="670" y1="401" x2="661.5" y2="409.4" stroke="#000" stroke-width="1.25" /><line x1="698" y1="426" x2="689.6" y2="435" stroke="#000" stroke-width="1.25" /><text x="689.4" y="413.6" font-size="18" text-anchor="middle" font-weight="normal" font-style="normal" fill="#000" transform="rotate(42 689.4 413.6)" stroke="#000" stroke-width="0.35">L10</text><line x1="736.5" y1="395.8" x2="736.5" y2="459.3" stroke="#000" stroke-width="1" /><polygon points="736.5,433.6 733,419.6 740,419.6" fill="#000" /><polygon points="736.5,442.6 740,456.6 733,456.6" fill="#000" /><line x1="717.7" y1="434" x2="740" y2="433.4" stroke="#000" stroke-width="1.25" /><line x1="717.7" y1="442.5" x2="740" y2="442.5" stroke="#000" stroke-width="1" /><text x="731" y="411.9" font-size="18" text-anchor="middle" font-weight="normal" font-style="normal" fill="#000" transform="rotate(-90 731 411.9)" stroke="#000" stroke-width="0.35">W11</text><line x1="692.6" y1="452.8" x2="668.1" y2="477.2" stroke="#000" stroke-width="1.25" /><polygon points="692.6,452.8 685.18,465.17 680.23,460.22" fill="#000" /><polygon points="668.1,477.2 675.52,464.83 680.47,469.78" fill="#000" /><line x1="673" y1="435.6" x2="694.6" y2="455" stroke="#000" stroke-width="1.25" /><line x1="647.9" y1="457.7" x2="670" y2="479" stroke="#000" stroke-width="1.25" /><text x="677.8" y="459.4" font-size="18" text-anchor="middle" font-weight="normal" font-style="normal" fill="#000" transform="rotate(-45 677.8 459.4)" stroke="#000" stroke-width="0.35">L8</text><line x1="563" y1="468.8" x2="587" y2="491.4" stroke="#000" stroke-width="1.25" /><polygon points="563,468.8 575.56,475.9 570.74,480.98" fill="#000" /><polygon points="587,491.4 574.44,484.3 579.26,479.22" fill="#000" /><line x1="561.4" y1="470.6" x2="603" y2="428.6" stroke="#000" stroke-width="1.25" /><line x1="585.4" y1="493.4" x2="617.6" y2="462.4" stroke="#000" stroke-width="1.25" /><text x="580.6" y="476.4" font-size="18" text-anchor="middle" font-weight="normal" font-style="normal" fill="#000" transform="rotate(45 580.6 476.4)" stroke="#000" stroke-width="0.35">L8</text><line x1="647.9" y1="458.4" x2="691.2" y2="498.8" stroke="#000" stroke-width="1.25" /><text x="695.6" y="484.4" font-size="18" text-anchor="middle" font-weight="normal" font-style="normal" fill="#000" transform="rotate(-45 695.6 484.4)" stroke="#000" stroke-width="0.35">L9</text><line x1="730.2" y1="494" x2="680.7" y2="542.8" stroke="#000" stroke-width="1.25" /><polygon points="705.2,518.6 712.62,506.23 717.57,511.18" fill="#000" /><polygon points="693.4,530.6 685.98,542.97 681.03,538.02" fill="#000" /><line x1="707.9" y1="483.5" x2="673" y2="518.4" stroke="#000" stroke-width="1.25" /><polygon points="687,503 680.81,513.78 676.22,509.19" fill="#000" /><polygon points="676,514 669.81,524.78 665.22,520.19" fill="#000" /><text x="713.6" y="499" font-size="18" text-anchor="middle" font-weight="normal" font-style="normal" fill="#000" transform="rotate(-45 713.6 499)" stroke="#000" stroke-width="0.35">W12</text><line x1="592.9" y1="562.7" x2="653.2" y2="504.4" stroke="#000" stroke-width="1.25" /><polygon points="592.9,562.7 600.51,550.44 605.39,555.46" fill="#000" /><polygon points="653.2,504.4 645.59,516.66 640.71,511.64" fill="#000" /><line x1="571.6" y1="542.6" x2="594.8" y2="565.6" stroke="#000" stroke-width="1.25" /><line x1="628.1" y1="478.1" x2="673.3" y2="517" stroke="#000" stroke-width="1.25" /><text x="620.6" y="525.2" font-size="18" text-anchor="middle" font-weight="normal" font-style="normal" fill="#000" transform="rotate(-44 620.6 525.2)" stroke="#000" stroke-width="0.35">L12</text><line x1="520.1" y1="547.6" x2="566.5" y2="501.9" stroke="#000" stroke-width="1.25" /><polygon points="532.8,535.2 525.38,547.57 520.43,542.62" fill="#000" /><polygon points="547.6,520.6 555.02,508.23 559.97,513.18" fill="#000" /><line x1="532.8" y1="535.2" x2="540" y2="542.4" stroke="#000" stroke-width="1.25" /><line x1="547.6" y1="520.6" x2="555" y2="528" stroke="#000" stroke-width="1.25" /><text x="553.4" y="504.6" font-size="18" text-anchor="middle" font-weight="normal" font-style="normal" fill="#000" transform="rotate(-45 553.4 504.6)" stroke="#000" stroke-width="0.35">W8</text><line x1="719.2" y1="579" x2="773.2" y2="527.5" stroke="#000" stroke-width="1.25" /><polygon points="730.4,568.4 722.66,580.58 717.84,575.5" fill="#000" /><polygon points="745.6,553.8 753.34,541.62 758.16,546.7" fill="#000" /><line x1="714.2" y1="550.1" x2="731.4" y2="569.4" stroke="#000" stroke-width="1.25" /><line x1="730.5" y1="541.3" x2="746.6" y2="557.4" stroke="#000" stroke-width="1.25" /><text x="760.4" y="527.2" font-size="18" text-anchor="middle" font-weight="normal" font-style="normal" fill="#000" transform="rotate(-44 760.4 527.2)" stroke="#000" stroke-width="0.35">W8</text><text x="655.8" y="678.2" font-size="18.5" text-anchor="middle" font-weight="normal" font-style="normal" fill="#000" stroke="#000" stroke-width="0.7">Port1</text><text x="737.2" y="678.2" font-size="18.5" text-anchor="middle" font-weight="normal" font-style="normal" fill="#000" stroke="#000" stroke-width="0.7">Port2</text></g>
</svg>
</body></html>
